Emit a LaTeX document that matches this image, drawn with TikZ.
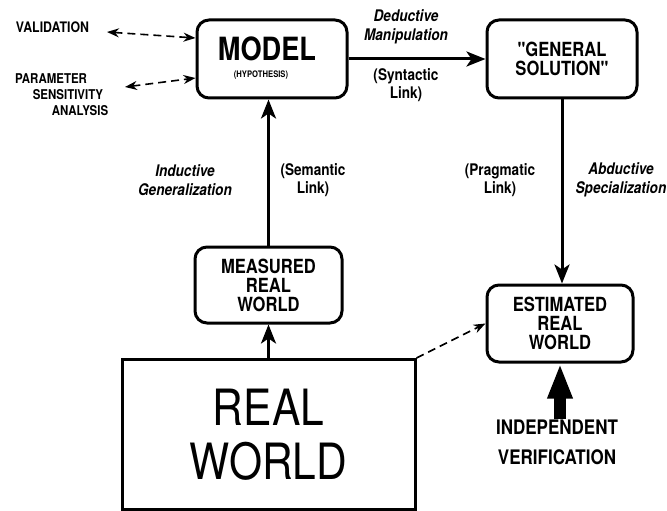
\documentclass[tikz,border=0pt]{standalone}
\usepackage{fontspec}
\setmainfont{TeX Gyre Heros}[FakeStretch=0.85]
\newfontfamily\plainq{TeX Gyre Heros}[FakeStretch=0.85]
\usetikzlibrary{arrows.meta}
\begin{document}
\begin{tikzpicture}[x=1pt,y=-1pt,
  box/.style={draw, line width=3pt, rounded corners=12pt, align=center, inner sep=0pt},
  boxtext/.style={font=\fontsize{19.5}{19}\selectfont\bfseries},
  link/.style={line width=3pt, -{Stealth[length=19pt,width=15pt,inset=5pt]}},
  dlink/.style={line width=1.6pt, dash pattern=on 8pt off 5pt,
     {Stealth[length=12pt,width=9pt]}-{Stealth[length=12pt,width=9pt]}},
  dlinkone/.style={line width=1.6pt, dash pattern=on 8pt off 5pt,
     -{Stealth[length=12pt,width=9pt]}},
  fat/.style={line width=12pt, -{Triangle[length=35pt,width=23pt]}},
  lab/.style={font=\fontsize{16}{18.5}\selectfont\bfseries\itshape, align=center, inner sep=0pt},
  plab/.style={font=\fontsize{16}{18.5}\selectfont\bfseries, align=center, inner sep=0pt},
  side/.style={font=\fontsize{13.5}{14}\selectfont\bfseries, inner sep=0pt}]
\useasboundingbox (0,0) rectangle (667,511);

% boxes
\node[box, minimum width=150pt, minimum height=78pt] (model) at (272,59) {};
\node[font=\fontsize{32}{32}\selectfont\bfseries, inner sep=0pt] (modelt) at (267,48.5) {MODEL};
\node[font=\fontsize{9}{9}\selectfont\bfseries, inner sep=0pt] (hyp) at (261,75) {(HYPOTHESIS)};

\node[box, boxtext, minimum width=150pt, minimum height=78pt] (gs) at (562,59)
  {{\plainq"}GENERAL\\SOLUTION{\plainq"}};

\node[box, boxtext, minimum width=147pt, minimum height=76pt] (mrw) at (268.5,285)
  {MEASURED\\REAL\\WORLD};

\node[box, boxtext, minimum width=146pt, minimum height=77pt] (erw) at (560,323.5)
  {ESTIMATED\\REAL\\WORLD};

\node[draw, line width=3pt, minimum width=293pt, minimum height=150pt, align=center,
  font=\fontsize{50}{54}\selectfont] (rw) at (268.5,434.5) {REAL\\WORLD};

% side texts
\node[side, font=\fontsize{14.5}{15}\selectfont\bfseries] (val) at (52.5,27) {VALIDATION};
\node[side] (par1) at (51,79) {PARAMETER};
\node[side] (par2) at (68,95) {SENSITIVITY};
\node[side] (par3) at (80,111) {ANALYSIS};
\node[font=\fontsize{20}{30}\selectfont\bfseries, align=center, inner sep=0pt] (iv) at (557,442)
  {INDEPENDENT\\VERIFICATION};

% link labels
\node[lab] (ded) at (406,27) {Deductive\\Manipulation};
\node[plab] (syn) at (406,85) {(Syntactic\\Link)};
\node[lab] (ind) at (185,180) {Inductive\\Generalization};
\node[plab] (sem) at (313,180) {(Semantic\\Link)};
\node[plab] (prag) at (500,180) {(Pragmatic\\Link)};
\node[lab] (abd) at (621,180) {Abductive\\Specialization};

% connectors
\draw[link] (model.east) -- (gs.west);
\draw[link] (mrw.north) -- (mrw.north |- model.south);
\draw[link] (rw.north) -- (mrw.south);
\draw[link] (gs.south) -- (gs.south |- erw.north);
\draw[fat] (erw.south |- iv.north) -- (erw.south);

\coordinate (va) at (107,32);
\coordinate (pa) at (125,87);
\draw[dlink] (va) -- ([yshift=21pt]model.west);
\draw[dlink] (pa) -- ([yshift=-19pt]model.west);
\draw[dlinkone] (rw.north east) -- (erw.west);
\end{tikzpicture}
\end{document}
